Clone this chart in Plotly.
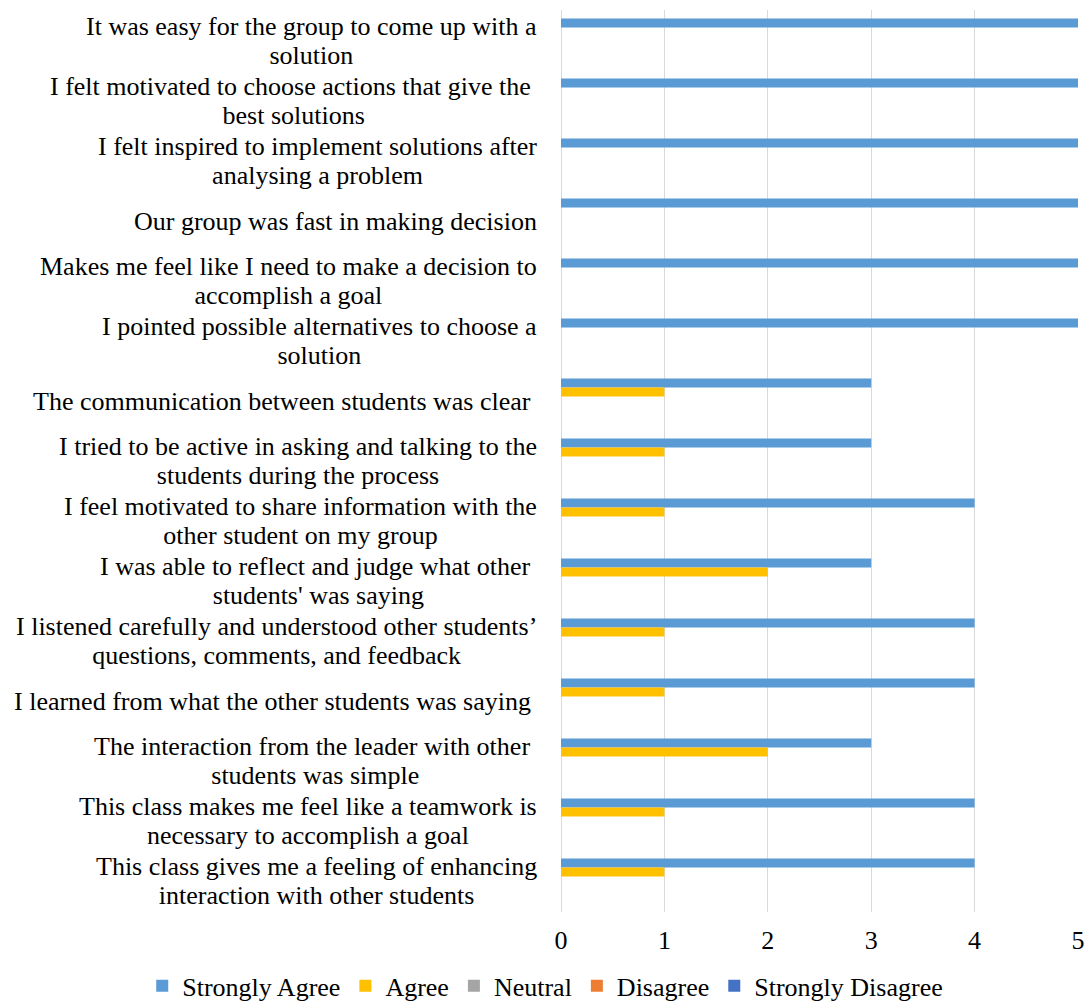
import plotly.graph_objects as go

categories = [
    "It was easy for the group to come up with a<br>solution",
    "I felt motivated to choose actions that give the <br>best solutions",
    "I felt inspired to implement solutions after<br>analysing a problem",
    "Our group was fast in making decision",
    "Makes me feel like I need to make a decision to<br>accomplish a goal",
    "I pointed possible alternatives to choose a<br>solution",
    "The communication between students was clear ",
    "I tried to be active in asking and talking to the<br>students during the process",
    "I feel motivated to share information with the<br>other student on my group",
    "I was able to reflect and judge what other <br>students' was saying",
    "I listened carefully and understood other students’<br>questions, comments, and feedback",
    "I learned from what the other students was saying ",
    "The interaction from the leader with other <br>students was simple",
    "This class makes me feel like a teamwork is<br>necessary to accomplish a goal",
    "This class gives me a feeling of enhancing<br>interaction with other students",
]
strongly_agree = [5, 5, 5, 5, 5, 5, 3, 3, 4, 3, 4, 4, 3, 4, 4]
agree = [0, 0, 0, 0, 0, 0, 1, 1, 1, 2, 1, 1, 2, 1, 1]
neutral = [0] * 15
disagree = [0] * 15
strongly_disagree = [0] * 15

series = [
    ("Strongly Agree", strongly_agree, "#5B9BD5"),
    ("Agree", agree, "#FFC000"),
    ("Neutral", neutral, "#A5A5A5"),
    ("Disagree", disagree, "#ED7D31"),
    ("Strongly Disagree", strongly_disagree, "#4472C4"),
]

FONT = "Liberation Serif"
cat_ids = [str(i) for i in range(len(categories))]

fig = go.Figure()
for name, vals, color in series:
    fig.add_trace(go.Bar(
        y=cat_ids, x=vals, name=name, orientation="h",
        marker=dict(color=color, line=dict(width=0)),
    ))


def keep_trailing(s):
    stripped = s.rstrip(" ")
    return stripped + "\u00a0" * (len(s) - len(stripped))


for cid, label in zip(cat_ids, categories):
    styled = "<br>".join(
        '<span style="font-size:26px">' + keep_trailing(ln) + "</span>"
        for ln in label.split("<br>")
    )
    fig.add_annotation(
        x=0, xref="paper", y=cid, yref="y", text=styled,
        xanchor="right", yanchor="middle", align="center",
        xshift=-22, showarrow=False,
        font=dict(family=FONT, size=22.5, color="#000000"),
    )

fig.update_layout(
    width=1086, height=1003,
    margin=dict(l=561, r=8, t=10, b=91, autoexpand=False),
    barmode="group", bargap=0.25, bargroupgap=0,
    plot_bgcolor="white", paper_bgcolor="white",
    font=dict(family=FONT, size=26, color="#000000"),
    legend=dict(
        orientation="h", x=-0.81, xanchor="left", y=-0.082, yanchor="middle",
        font=dict(family=FONT, size=26), traceorder="normal",
        itemwidth=30,
    ),
    xaxis=dict(
        range=[0, 5], dtick=1, showgrid=True, gridcolor="#D9D9D9", gridwidth=1,
        zeroline=True, zerolinecolor="#D9D9D9", zerolinewidth=1,
        showline=False, ticks="outside", ticklen=5, tickcolor="rgba(0,0,0,0)",
        tickfont=dict(family=FONT, size=26),
    ),
    yaxis=dict(
        type="category", autorange="reversed", showticklabels=False,
        showgrid=False, zeroline=False, showline=False,
    ),
)

fig.write_html("out.html")
